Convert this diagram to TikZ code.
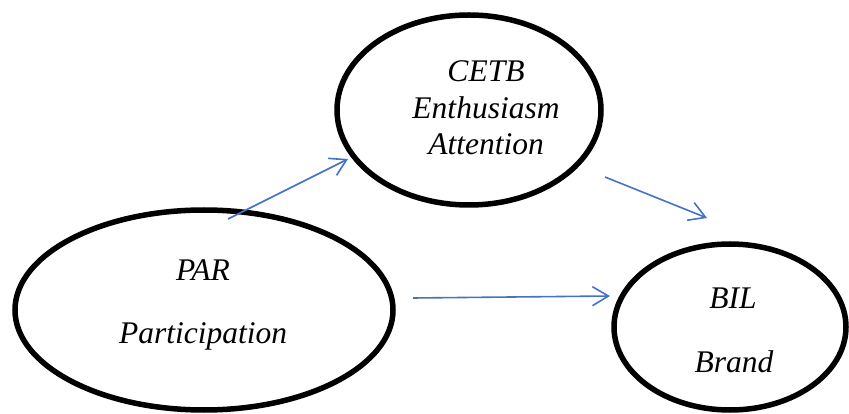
\documentclass[tikz,border=0pt]{standalone}
\usepackage{fontspec}
\setmainfont{Liberation Serif}[ItalicFont={Liberation Serif Italic}]
\usetikzlibrary{shapes.geometric,arrows.meta}
\definecolor{arrowblue}{RGB}{68,114,196}
\begin{document}
\begin{tikzpicture}[x=1pt,y=-1pt,
  construct/.style={ellipse, draw=black, line width=5.5pt, inner sep=0pt},
  txt/.style={anchor=base, inner sep=0pt, font=\fontsize{31.5}{36}\selectfont\itshape},
  link/.style={draw=arrowblue, line width=1.6pt,
    -{Straight Barb[length=16pt,width=19pt,line width=1.6pt]}}
]
\useasboundingbox (0,0) rectangle (849,414);

% the three constructs
\node[construct, minimum width=378pt, minimum height=200pt] (par)  at (204,310) {};
\node[construct, minimum width=264pt, minimum height=190pt] (cetb) at (469,110) {};
\node[construct, minimum width=232pt, minimum height=166pt] (bil)  at (730,327) {};

% their labels
\node[txt] (parA) at (203,280) {PAR};
\node[txt] (parB) at (203,343) {Participation};
\node[txt] (cetbA) at (486,82) {CETB};
\node[txt] (cetbB) at (486,119) {Enthusiasm};
\node[txt] (cetbC) at (486,155) {Attention};
\node[txt] (bilA) at (733,308) {BIL};
\node[txt] (bilB) at (734,372) {Brand};

% free ends of the paths
\coordinate (p1s) at (228,219);
\coordinate (p1e) at (348,159);
\coordinate (p2s) at (413,298);
\coordinate (p2e) at (610,296);
\coordinate (p3s) at (605,177);
\coordinate (p3e) at (707,218);

\draw[link] (p1s) -- (p1e);
\draw[link] (p2s) -- (p2e);
\draw[link] (p3s) -- (p3e);
\end{tikzpicture}
\end{document}
